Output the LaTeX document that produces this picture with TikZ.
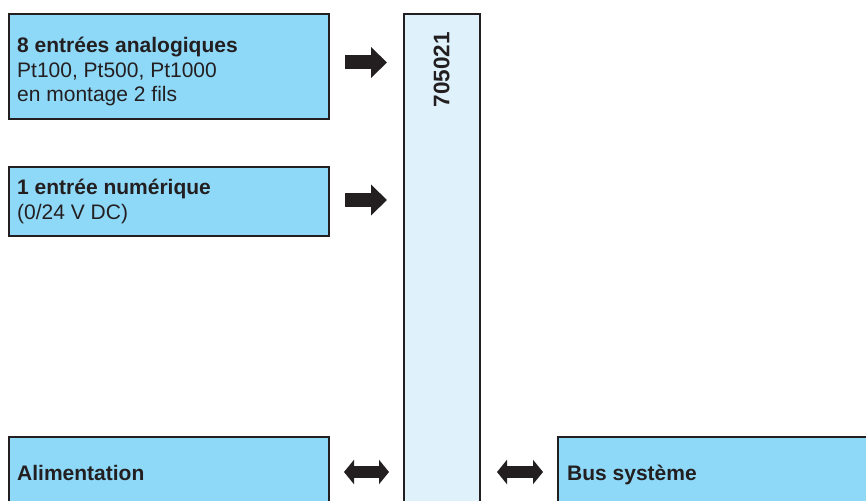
\documentclass[tikz,border=0pt]{standalone}
\usepackage{fontspec}
\setmainfont{Liberation Sans}
\usetikzlibrary{arrows.meta}
\definecolor{boxblue}{HTML}{8ED8F8}
\definecolor{modblue}{HTML}{DFF2FC}
\definecolor{inkblack}{HTML}{231F20}

\begin{document}
\begin{tikzpicture}[x=1pt,y=-1pt]
\tikzstyle{every node}+=[inner sep=0pt]
\tikzstyle{blockbox}=[draw=inkblack, line width=1.8pt, fill=boxblue, anchor=north west]
\tikzstyle{blocktext}=[anchor=base west, align=left, font=\fontsize{21}{24.5}\selectfont, text=inkblack]
\tikzstyle{fatarrow}=[draw=inkblack, line width=14pt, -{Triangle[width=30pt,length=16pt]}]
\tikzstyle{twinarrow}=[draw=inkblack, line width=12pt, {Triangle[width=24pt,length=10pt]}-{Triangle[width=24pt,length=10pt]}]
\useasboundingbox (0,0) rectangle (866,500);
\clip (0,0) rectangle (866,500);
% boxes
\node [blockbox, minimum width=320pt, minimum height=105pt] (analog) at (8,13) {};
\node [blockbox, minimum width=320pt, minimum height=69pt] (digital) at (8,166) {};
\node [blockbox, minimum width=320pt, minimum height=90pt] (power) at (8,436) {};
\node [blockbox, fill=modblue, minimum width=76pt, minimum height=510pt] (module) at (403,13) {};
\node [blockbox, minimum width=330pt, minimum height=90pt] (bus) at (557,436) {};
% texts (base = last line)
\node [blocktext] (analogtxt) at (17,102) {\textbf{8 entrées analogiques}\\Pt100, Pt500, Pt1000\\en montage 2 fils};
\node [blocktext] (digitaltxt) at (17,219) {\textbf{1 entrée numérique}\\(0/24 V DC)};
\node [blocktext] (powertxt) at (17,480) {\textbf{Alimentation}};
\node [blocktext] (bustxt) at (567,480) {\textbf{Bus système}};
\node [rotate=90, font=\fontsize{22.5}{24}\selectfont\bfseries, text=inkblack] (modtxt) at (441.5,69.5) {705021};
% arrows
\coordinate (a1s) at (345,62.5);
\coordinate (a1e) at (387,62.5);
\coordinate (a2s) at (345,200);
\coordinate (a2e) at (387,200);
\coordinate (d1s) at (344,472);
\coordinate (d1e) at (389,472);
\coordinate (d2s) at (497,472);
\coordinate (d2e) at (543,472);
\draw [fatarrow] (a1s) -- (a1e);
\draw [fatarrow] (a2s) -- (a2e);
\draw [twinarrow] (d1s) -- (d1e);
\draw [twinarrow] (d2s) -- (d2e);
\end{tikzpicture}
\end{document}
